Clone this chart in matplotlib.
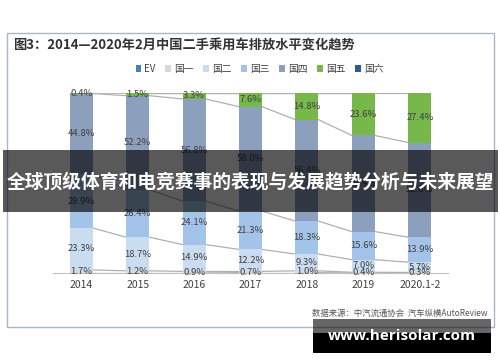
import matplotlib.pyplot as plt
import matplotlib.patches as patches
import numpy as np

plt.rcParams['font.family'] = ['Noto Sans CJK SC', 'DejaVu Sans']

# data (% share of used passenger cars by emission standard)
years = ['2014', '2015', '2016', '2017', '2018', '2019', '2020.1-2']
series_names = ['EV', '国一', '国二', '国三', '国四', '国五', '国六']
ev = [0.0, 0.0, 0.0, 0.2, 0.2, 0.0, 0.0]
guo1 = [1.7, 1.2, 0.9, 0.7, 1.0, 0.4, 0.3]
guo2 = [23.3, 18.7, 14.9, 12.2, 9.3, 7.0, 5.7]
guo3 = [29.9, 26.4, 24.1, 21.3, 18.3, 15.6, 13.9]
guo4 = [44.8, 52.2, 56.8, 58.0, 56.4, 53.4, 52.6]
guo5 = [0.4, 1.5, 3.3, 7.6, 14.8, 23.6, 27.4]
guo6 = [0.0, 0.0, 0.0, 0.0, 0.0, 0.0, 0.1]

colors = ['#4a7ebb', '#d9d9d9', '#c9dcf0', '#a3c4e8', '#8c9fbd', '#77b84a', '#2e5c8a']
labelled = [False, True, True, True, True, True, False]

W, H = 500, 362
fig = plt.figure(figsize=(W / 100, H / 100), dpi=100)

# chart axes placed in pixel coordinates
x0, x1, ytop, ybot = 53, 448, 93, 273
ax = fig.add_axes([x0 / W, 1 - ybot / H, (x1 - x0) / W, (ybot - ytop) / H])

data = np.array([ev, guo1, guo2, guo3, guo4, guo5, guo6])
x = np.arange(len(years))
bw = 0.41
bottom = np.zeros(len(years))
bars = []
for i, name in enumerate(series_names):
    b = ax.bar(x, data[i], bw, bottom=bottom, color=colors[i], label=name, zorder=2)
    bars.append(b)
    if labelled[i]:
        for xi, v, bt in zip(x, data[i], bottom):
            ax.text(xi, bt + v / 2, f'{v:.1f}%', ha='center', va='center',
                    fontsize=6.8, color='#404040', zorder=4)
    bottom = bottom + data[i]
    # series lines between neighbouring bars
    for j in range(len(years) - 1):
        ax.plot([x[j] + bw / 2, x[j + 1] - bw / 2], [bottom[j], bottom[j + 1]],
                color='#b0b0b0', lw=0.9, zorder=1)

ax.set_xlim(-0.5, len(years) - 0.5)
ax.set_ylim(0, 100)
ax.set_yticks([])
ax.set_xticks(x)
ax.set_xticklabels(years, fontsize=7.5, color='#404040')
ax.tick_params(axis='x', length=0, pad=5)
for s in ['top', 'right', 'left']:
    ax.spines[s].set_visible(False)
ax.spines['bottom'].set_color('#c0c0c0')

# overlay axes for frame, title and decorations
ov = fig.add_axes([0, 0, 1, 1], zorder=5)
ov.set_xlim(0, W)
ov.set_ylim(H, 0)
ov.axis('off')
ov.patch.set_alpha(0)

ov.add_patch(patches.Rectangle((7, 33), 487, 294, fill=False, edgecolor='#a8b8c8', lw=1))
ov.text(13, 46, '图3：2014—2020年2月中国二手乘用车排放水平变化趋势', fontsize=9.5,
        fontweight='bold', color='#333333', va='center', ha='left')

fig.legend(handles=bars, labels=series_names, loc='center', bbox_to_anchor=(259.5 / W, 1 - 69 / H),
           ncol=7, frameon=False, fontsize=7, handlelength=0.6, handleheight=0.6,
           handletextpad=0.3, columnspacing=1.0, labelcolor='#404040')

ov.text(487, 313, '数据来源：中汽流通协会  汽车纵横AutoReview', fontsize=6, color='#555555',
        ha='right', va='center')

# banner
ov.add_patch(patches.Rectangle((3, 150), 495, 62, color='black', alpha=0.65, lw=0))
ov.text(250, 182, '全球顶级体育和电竞赛事的表现与发展趋势分析与未来展望', fontsize=13.5,
        fontweight='bold', color='white', ha='center', va='center')

# watermark box
ov.add_patch(patches.Rectangle((313, 319), 178, 14, color='black', alpha=0.6, lw=0))
ov.add_patch(patches.Rectangle((313, 333), 178, 20, color='black', lw=0))
ov.text(402, 336, 'www.herisolar.com', fontsize=11, fontweight='bold', color='white',
        ha='center', va='center', family=['Open Sans', 'DejaVu Sans'])

fig.savefig('out.png', dpi=100, facecolor='white')
